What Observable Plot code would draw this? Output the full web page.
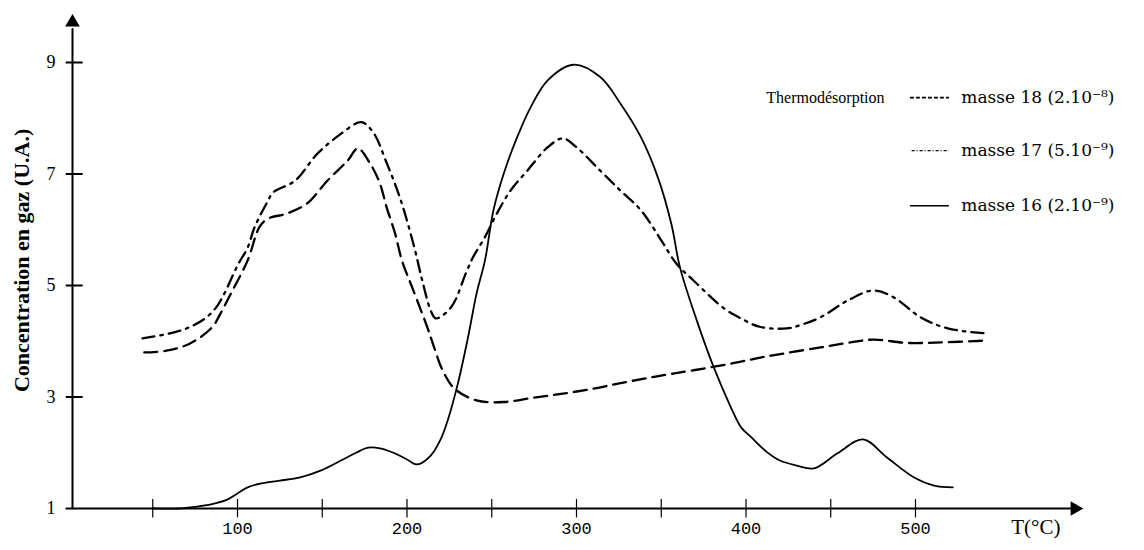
<!DOCTYPE html>
<html><head><meta charset="utf-8">
<script src="https://cdn.jsdelivr.net/npm/d3@7"></script>
<script src="https://cdn.jsdelivr.net/npm/@observablehq/plot@0.6"></script>
<style>body{margin:0;background:#fff}</style>
</head><body><div id="chart"></div>
<script>
// masse 18 (dashed)
const t18 = [45, 58, 72, 85, 90, 96, 106, 113, 118, 129, 141, 153, 165, 171, 178, 184, 188, 193, 197, 203, 212, 216, 221, 228, 241, 257, 275, 292, 310, 326, 342, 357, 375, 393, 409, 424, 444, 460, 475, 495, 515, 540];
const c18 = [3.80, 3.83, 3.96, 4.25, 4.5, 4.85, 5.45, 6.05, 6.2, 6.29, 6.47, 6.88, 7.24, 7.46, 7.2, 6.83, 6.4, 5.93, 5.45, 4.97, 4.25, 3.89, 3.48, 3.15, 2.94, 2.91, 2.99, 3.06, 3.15, 3.25, 3.34, 3.42, 3.51, 3.61, 3.71, 3.79, 3.89, 3.97, 4.03, 3.97, 3.98, 4.01];
// masse 17 (dash-dot)
const t17 = [44, 60, 70, 80, 87, 92, 100, 106, 110, 118, 121, 134, 147, 161, 173, 180, 188, 196, 204, 209, 214, 217, 226, 235, 239, 246, 253, 261, 271, 283, 292, 300, 314, 326, 338, 350, 359, 369, 387, 397, 408, 424, 433, 444, 460, 475, 487, 503, 519, 542];
const c17 = [4.05, 4.14, 4.23, 4.39, 4.59, 4.84, 5.36, 5.68, 6.04, 6.52, 6.67, 6.88, 7.36, 7.72, 7.93, 7.75, 7.2, 6.56, 5.72, 5.09, 4.55, 4.41, 4.61, 5.24, 5.51, 5.87, 6.29, 6.7, 7.06, 7.48, 7.64, 7.48, 7.06, 6.7, 6.35, 5.81, 5.39, 5.09, 4.59, 4.41, 4.26, 4.23, 4.30, 4.43, 4.73, 4.91, 4.79, 4.43, 4.23, 4.14];
// masse 16 (solid)
const t16 = [50, 65, 75, 85, 94, 100, 106, 114, 125, 137, 149, 161, 170, 177, 184, 192, 200, 206, 214, 220, 224, 230, 236, 241, 246, 251, 257, 265, 273, 283, 298, 314, 326, 338, 348, 356, 361, 371, 381, 391, 397, 403, 412, 420, 430, 440, 454, 469, 483, 499, 511, 522];
const c16 = [1.0, 1.0, 1.03, 1.08, 1.16, 1.27, 1.38, 1.45, 1.5, 1.56, 1.68, 1.86, 2.0, 2.09, 2.08, 2.0, 1.88, 1.79, 1.95, 2.25, 2.58, 3.24, 4.07, 4.85, 5.45, 6.35, 7.0, 7.66, 8.2, 8.68, 8.96, 8.74, 8.26, 7.66, 6.94, 6.1, 5.33, 4.37, 3.53, 2.82, 2.46, 2.28, 2.02, 1.86, 1.77, 1.72, 1.99, 2.24, 1.92, 1.56, 1.41, 1.38];

const seriesLabels = ["masse 18 (2.10\u207B\u2078)", "masse 17 (5.10\u207B\u2079)", "masse 16 (2.10\u207B\u2079)"];
const legendTitle = "Thermodésorption";
const yTicks = [1, 3, 5, 7, 9];
const xTickLabels = [100, 200, 300, 400, 500];
const xMinorTicks = [50, 100, 150, 200, 250, 300, 350, 400, 450, 500];
const xTitle = "T(°C)";
const yTitle = "Concentration en gaz (U.A.)";

const rows = (ts, cs) => ts.map((t, i) => ({t, c: cs[i]}));
const s18 = rows(t18, c18), s17 = rows(t17, c17), s16 = rows(t16, c16);

const serif = "Liberation Serif";
const yAxisAt = 2.65;          // T position of the vertical axis line
const legY = [8.37, 7.42, 6.43];
const legX1 = 497, legX2 = 520, legTextX = 527;
const yAxisLine = [{t: yAxisAt, c: 1}, {t: yAxisAt, c: 9.6}];
const xAxisLine = [{t: -1, c: 1}, {t: 592, c: 1}];

const chart = Plot.plot({
  width: 1144, height: 550,
  marginLeft: 72, marginRight: 59.5, marginTop: 30, marginBottom: 42,
  x: {domain: [0, 600], range: [67.5, 1084.5], label: null},
  y: {domain: [1, 10], range: [508, 6.25], label: null},
  style: {fontFamily: serif, background: "white", color: "black", overflow: "visible"},
  marks: [
    Plot.axisY(yTicks, {tickSize: 0, tickPadding: 17, fontSize: 18, fontFamily: serif, tickFormat: d => String(d)}),
    Plot.axisX(xTickLabels, {tickSize: 0, tickPadding: 13, fontSize: 17, fontFamily: "Liberation Mono", tickFormat: d => String(d)}),
    // curves
    Plot.line(s18, {x: "t", y: "c", curve: "catmull-rom", stroke: "black", strokeWidth: 2.3, strokeDasharray: "13,7"}),
    Plot.line(s17, {x: "t", y: "c", curve: "catmull-rom", stroke: "black", strokeWidth: 2.3, strokeDasharray: "12,6,2.5,6"}),
    Plot.line(s16, {x: "t", y: "c", curve: "catmull-rom", stroke: "black", strokeWidth: 1.8}),
    // titles
    Plot.text([xTitle], {x: () => 571, y: () => 1, dy: 19, fontSize: 21, fontFamily: serif, textAnchor: "middle"}),
    Plot.text([yTitle], {x: () => -27, y: () => 5.45, rotate: -90, fontSize: 22, fontWeight: "bold", fontFamily: serif, textAnchor: "middle"}),
    // legend
    Plot.text([legendTitle], {x: () => 412, y: () => legY[0], fontSize: 16, fontFamily: serif, textAnchor: "start"}),
    Plot.ruleY([legY[0]], {x1: legX1, x2: legX2, stroke: "black", strokeWidth: 1.6, strokeDasharray: "4,2"}),
    Plot.ruleY([legY[1]], {x1: legX1 + 1, x2: legX2, stroke: "black", strokeWidth: 1.4, strokeDasharray: "3,2,1,2"}),
    Plot.ruleY([legY[2]], {x1: legX1, x2: legX2, stroke: "black", strokeWidth: 1.6}),
    Plot.text(seriesLabels, {x: () => legTextX, y: (d, i) => legY[i], fontSize: 17, fontFamily: "DejaVu Serif", textAnchor: "start"}),
    // axis lines, ticks and arrows (drawn last, on top)
    Plot.line(yAxisLine, {x: "t", y: "c", stroke: "black", strokeWidth: 2}),
    Plot.line(xAxisLine, {x: "t", y: "c", stroke: "black", strokeWidth: 2}),
    Plot.link(yTicks.filter(v => v > 1), {x1: () => yAxisAt - 4, x2: () => yAxisAt + 6, y1: d => d, y2: d => d, stroke: "black", strokeWidth: 2}),
    Plot.link(xMinorTicks, {x1: d => d, x2: d => d, y1: () => 0.84, y2: () => 1.17, stroke: "black", strokeWidth: 1.2}),
    Plot.dot([yAxisAt], {x: d => d, y: () => 9.72, symbol: "triangle2", r: 7, fill: "black", stroke: null}),
    Plot.dot([1], {x: () => 594, y: d => d, symbol: "triangle2", rotate: 90, r: 7, fill: "black", stroke: null})
  ]
});
document.getElementById("chart").append(chart);
</script>
</body></html>
